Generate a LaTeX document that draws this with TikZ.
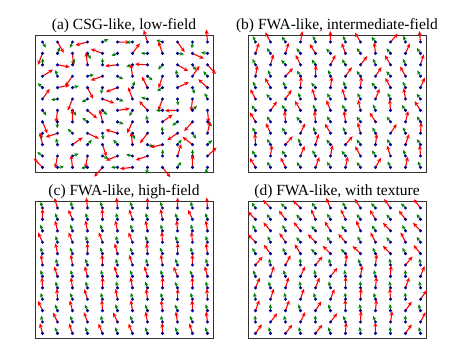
\documentclass[tikz,border=0pt]{standalone}
\usepackage{fontspec}
\setmainfont{Liberation Serif}
\usetikzlibrary{arrows.meta}

\definecolor{cred}{RGB}{250,0,0}
\definecolor{cgreen}{RGB}{0,128,0}
\definecolor{cblue}{RGB}{0,0,150}
\tikzset{
  spinfig/.style={x=1pt,y=-1pt},
  frame/.style={draw=black!80,line width=0.9pt},
  title/.style={font=\fontsize{15.5}{18}\selectfont,anchor=base},
  redspin/.style={cred,line width=1.1pt,-{Stealth[length=4.5pt,width=4pt]}},
  greenspin/.style={cgreen,line width=1pt,-{Stealth[length=4pt,width=3.6pt]}}
}
% #1,#2 top left corner, #3 name, #4 title, #5 green angle, #6 red angle, #7 red length
\newcommand{\spinpanel}[7]{%
  \draw[frame] (#1,#2) rectangle ++(178,137);
  \node[title] (#3) at ({#1+89},{#2-6}) {#4};
  \foreach \i in {0,...,11}
    \foreach \j in {0,...,11} {
      \pgfmathsetmacro\r{rand}
      \pgfmathtruncatemacro\odd{mod(\i+\j,2)}
      \pgfmathsetmacro\px{#1+7.5+15*\i}
      \pgfmathsetmacro\py{#2+7+11.4*\j}
      \ifnum\odd=0
        \pgfmathsetmacro\ang{#5}
        \draw[greenspin] (\px,\py) -- ++({6.5*sin(\ang)},{-6.5*cos(\ang)});
      \else
        \pgfmathsetmacro\ang{#6}
        \draw[redspin] (\px,\py) -- ++({#7*sin(\ang)},{-#7*cos(\ang)});
      \fi
      \fill[cblue] (\px,\py) circle (1.7pt);
    }
}

\begin{document}
\begin{tikzpicture}[spinfig]
  \useasboundingbox (0,0) rectangle (474,356);
  \pgfmathsetseed{4711}
  \spinpanel{35}{35}{ta}{(a) CSG-like, low-field}{180*\r}{180*\r}{12.5}
  \pgfmathsetseed{815}
  \spinpanel{248}{35}{tb}{(b) FWA-like, intermediate-field}{-30+12*\r}{5+38*\r}{11}
  \pgfmathsetseed{2024}
  \spinpanel{35}{201}{tc}{(c) FWA-like, high-field}{-18+6*\r}{-12+14*\r}{10.5}
  \pgfmathsetseed{99}
  \spinpanel{248}{201}{td}{(d) FWA-like, with texture}%
    {ifthenelse(\j<5,-35,-12)+10*\r}%
    {ifthenelse(\j<5,-35,28-26*(\i>5)*(\i<10))+12*\r}{11}
\end{tikzpicture}
\end{document}
